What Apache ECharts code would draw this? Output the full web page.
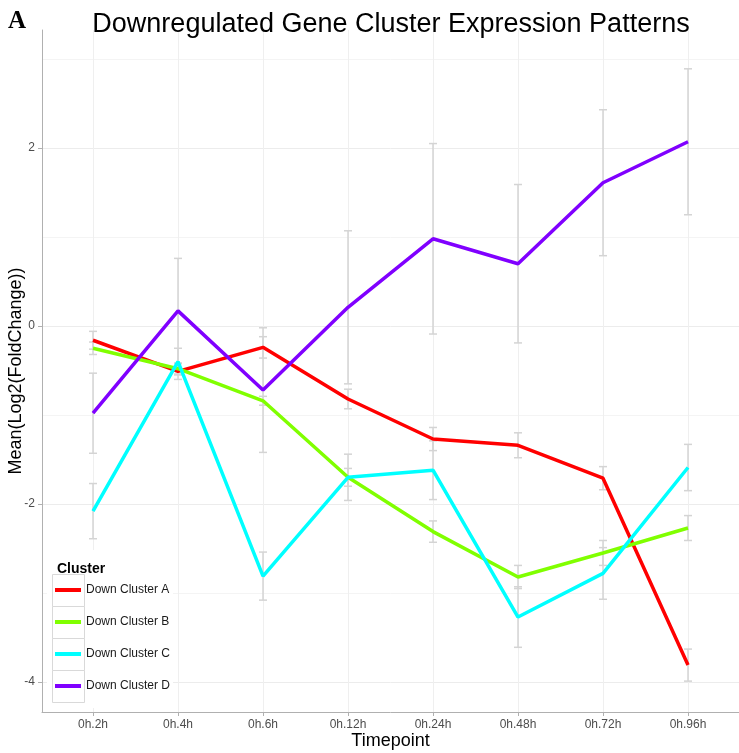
<!DOCTYPE html>
<html>
<head>
<meta charset="utf-8">
<script src="https://cdn.jsdelivr.net/npm/echarts@6/dist/echarts.min.js"></script>
<style>
  html, body { margin: 0; padding: 0; background: #fff; }
  #chart { width: 739px; height: 753px; }
</style>
</head>
<body>
<div id="chart"></div>
<script>
const timepoints = ['0h.2h', '0h.4h', '0h.6h', '0h.12h', '0h.24h', '0h.48h', '0h.72h', '0h.96h']
const clusterNames = ['Down Cluster A', 'Down Cluster B', 'Down Cluster C', 'Down Cluster D']
const clusterColors = ['#FF0000', '#80FF00', '#00FFFF', '#8000FF']

// mean log2 fold change per timepoint
const meanA = [-0.16, -0.51, -0.24, -0.82, -1.27, -1.34, -1.71, -3.81]
const meanB = [-0.25, -0.48, -0.84, -1.70, -2.31, -2.82, -2.55, -2.27]
const meanC = [-2.08, -0.40, -2.81, -1.70, -1.62, -3.27, -2.78, -1.59]
const meanD = [-0.98, 0.17, -0.72, 0.21, 0.98, 0.70, 1.61, 2.07]

// half length of the error bars
const errA = [0.10, 0.09, 0.12, 0.11, 0.13, 0.14, 0.13, 0.18]
const errB = [0.07, 0.06, 0.05, 0.10, 0.12, 0.13, 0.14, 0.14]
const errC = [0.31, 0.15, 0.27, 0.26, 0.33, 0.34, 0.29, 0.26]
const errD = [0.45, 0.59, 0.70, 0.86, 1.07, 0.89, 0.82, 0.82]

const yTickLabels = [-4, -2, 0, 2]
const yGridValues = [-4, -3, -2, -1, 0, 1, 2, 3]

const means = [meanA, meanB, meanC, meanD]
const errs = [errA, errB, errC, errD]
const fontFamily = '"Liberation Sans", Arial, sans-serif'
const tickIdx = timepoints.map((t, i) => i)

const myChart = echarts.init(document.getElementById('chart'))

function errorBar(params, api) {
  const x = api.value(0)
  const p0 = api.coord([x, api.value(1)])
  const p1 = api.coord([x, api.value(2)])
  const w = 4
  const style = { stroke: '#d4d4d4', lineWidth: 1.5 }
  return {
    type: 'group',
    children: [
      { type: 'line', shape: { x1: p0[0], y1: p0[1], x2: p1[0], y2: p1[1] }, style },
      { type: 'line', shape: { x1: p0[0] - w, y1: p0[1], x2: p0[0] + w, y2: p0[1] }, style },
      { type: 'line', shape: { x1: p1[0] - w, y1: p1[1], x2: p1[0] + w, y2: p1[1] }, style },
    ],
  }
}

const errorSeries = clusterNames.map((name, k) => ({
  name: 'err ' + name,
  type: 'custom',
  renderItem: errorBar,
  encode: { x: 0, y: [1, 2] },
  data: timepoints.map((t, i) => [i, means[k][i] - errs[k][i], means[k][i] + errs[k][i]]),
  z: 1,
  silent: true,
}))

const lineSeries = clusterNames.map((name, k) => ({
  name,
  type: 'line',
  data: timepoints.map((t, i) => [i, means[k][i]]),
  showSymbol: false,
  lineStyle: { width: 3.5, color: clusterColors[k] },
  itemStyle: { color: clusterColors[k] },
  z: 2,
}))

// legend key boxes (ggplot style)
const keyBoxes = clusterNames.map((name, k) => ({
  type: 'rect',
  shape: { x: 52.5, y: 574.5 + k * 32, width: 32, height: 32 },
  style: { fill: '#fff', stroke: '#d9d9d9', lineWidth: 1 },
  z: 3,
}))

const option = {
  backgroundColor: '#fff',
  animation: false,
  title: [
    {
      text: 'Downregulated Gene Cluster Expression Patterns',
      left: 386, top: 6, textAlign: 'center',
      textStyle: { fontFamily, fontSize: 27, fontWeight: 'normal', color: '#000' },
    },
    {
      text: 'A', left: 3, top: 4,
      textStyle: { fontFamily: '"Liberation Serif", "Times New Roman", serif', fontSize: 25, fontWeight: 'bold', color: '#000' },
    },
    {
      text: 'Cluster', left: 52, top: 557,
      textStyle: { fontFamily, fontSize: 14, fontWeight: 'bold', color: '#000' },
      z: 5,
    },
  ],
  grid: { left: 42, right: 0, top: 30, bottom: 41, outerBoundsMode: 'none' },
  legend: {
    data: clusterNames,
    orient: 'vertical',
    left: 55, top: 584,
    padding: 0,
    icon: 'rect',
    itemWidth: 26, itemHeight: 4, itemGap: 20,
    textStyle: { fontFamily, fontSize: 12, color: '#1a1a1a' },
    z: 5,
  },
  graphic: [
    {
      type: 'rect',
      shape: { x: 47, y: 550, width: 126, height: 158 },
      style: { fill: '#fff' },
      z: 3,
    },
    ...keyBoxes,
  ],
  xAxis: {
    type: 'value',
    min: -0.6, max: 7.6,
    name: 'Timepoint',
    nameLocation: 'middle',
    nameGap: 20,
    nameMoveOverlap: false,
    nameTextStyle: { fontFamily, fontSize: 18, color: '#000' },
    axisLine: { show: true, onZero: false, lineStyle: { color: '#b0b0b0', width: 1 } },
    axisTick: { show: true, length: 4, customValues: tickIdx, lineStyle: { color: '#b0b0b0' } },
    axisLabel: {
      customValues: tickIdx,
      formatter: v => timepoints[Math.round(v)],
      fontFamily, fontSize: 12, color: '#4d4d4d', margin: 7,
    },
    splitLine: { show: true, lineStyle: { color: '#efefef', width: 1 } },
  },
  yAxis: [
    {
      type: 'value',
      min: -4.337, max: 3.326,
      name: 'Mean(Log2(FoldChange))',
      nameLocation: 'middle',
      nameGap: 17,
      nameRotate: 90,
      nameMoveOverlap: false,
      nameTextStyle: { fontFamily, fontSize: 18, color: '#000' },
      axisLine: { show: true, onZero: false, lineStyle: { color: '#b0b0b0', width: 1 } },
      axisTick: { show: false, customValues: yGridValues },
      axisLabel: { customValues: yTickLabels, fontFamily, fontSize: 12, color: '#4d4d4d', margin: 7 },
      splitLine: { show: true, lineStyle: { color: ['#ececec', '#f4f4f4'], width: 1 } },
    },
    {
      type: 'value',
      position: 'left',
      min: -4.337, max: 3.326,
      axisLine: { show: false, onZero: false },
      axisTick: { show: true, length: 4, customValues: yTickLabels, lineStyle: { color: '#b0b0b0' } },
      axisLabel: { show: false },
      splitLine: { show: false },
    },
  ],
  series: [...errorSeries, ...lineSeries],
}

myChart.setOption(option, true)
</script>
</body>
</html>
